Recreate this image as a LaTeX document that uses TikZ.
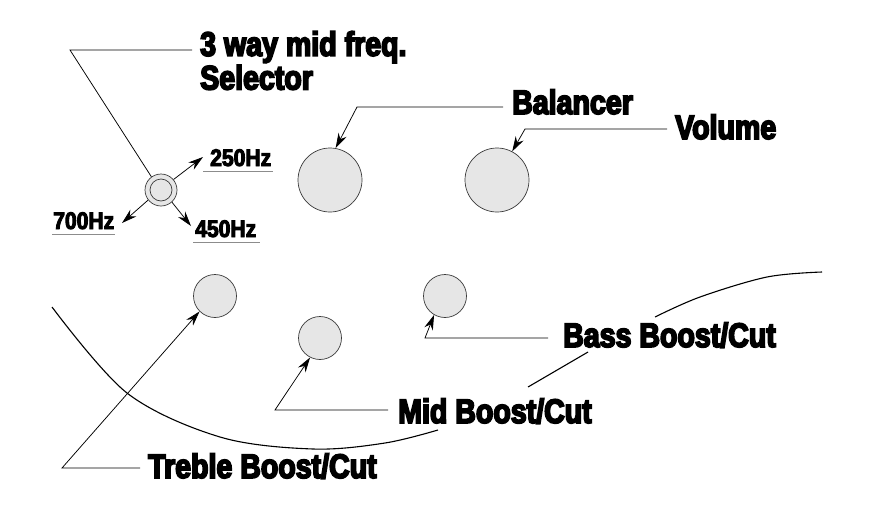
\documentclass[tikz,border=0pt]{standalone}
\usepackage{fontspec}
\newfontfamily\labfont[FakeStretch=0.84,FakeBold=5]{Liberation Sans Bold}
\newfontfamily\hzfont[FakeStretch=0.88,FakeBold=4]{Liberation Sans Bold}
\usetikzlibrary{arrows.meta}
\definecolor{knobfill}{HTML}{E6E6E6}
\definecolor{knobline}{HTML}{3A3A3A}
\tikzset{
  knob/.style={circle, draw=knobline, line width=0.7pt, fill=knobfill, inner sep=0pt, minimum size=#1},
  big/.style={font=\labfont\fontsize{34}{30}\selectfont, inner sep=0pt, anchor=base west},
  hz/.style={font=\hzfont\fontsize{24}{22}\selectfont, inner sep=0pt, anchor=base west},
  leader/.style={line width=0.75pt, black},
  arr/.style={leader, -{Stealth[length=15pt,width=9pt]}},
  uline/.style={line width=0.8pt, black!45},
  body/.style={line width=1.1pt, black}
}
\begin{document}
\begin{tikzpicture}[x=1pt,y=-1pt]
\useasboundingbox (0,0) rectangle (874,530);
% body outline (interrupted behind the labels)
\draw[body] plot[smooth, tension=0.55] coordinates {(52,307) (127,393) (220,437) (313,449) (385,443) (438,430)};
\draw[body] (528,387) -- (588,352);
\draw[body] plot[smooth, tension=0.55] coordinates {(655,317) (700,297) (767,277) (822,272)};
% knobs
\node[knob=64pt] (bal) at (330,180) {};
\node[knob=64pt] (vol) at (497,180) {};
\node[knob=43pt] (tre) at (215,296) {};
\node[knob=43pt] (mid) at (320,338) {};
\node[knob=43pt] (bas) at (445,296) {};
\node[knob=32pt] (selo) at (161,190) {};
\node[knob=22pt] (seli) at (161,190) {};
% labels
\node[big, align=left, anchor=north west] (seltxt) at (200,31) {3 way mid freq.\\[1pt]Selector};
\node[big] (baltxt) at (512,114) {Balancer};
\node[big] (voltxt) at (675,139) {Volume};
\node[big] (tretxt) at (148,478) {Treble Boost/Cut};
\node[big] (midtxt) at (398,423) {Mid Boost/Cut};
\node[big] (bastxt) at (563,347) {Bass Boost/Cut};
\node[hz] (hz250) at (210,166) {250Hz};
\node[hz] (hz700) at (53,229) {700Hz};
\node[hz] (hz450) at (195,237) {450Hz};
% underlines
\draw[uline] (hz250.base west) ++(-7,5) -- ++(70,0);
\draw[uline] (hz700.base west) ++(-1,5) -- ++(63,0);
\draw[uline] (hz450.base west) ++(-2,5) -- ++(67,0);
% leader corners
\coordinate (selc) at (70,50);
\coordinate (sele) at (192,50);
\coordinate (balc) at (357,107);
\coordinate (bale) at (503,107);
\coordinate (volc) at (525,129);
\coordinate (vole) at (667,129);
\coordinate (trec) at (62,468);
\coordinate (tree) at (140,468);
\coordinate (midc) at (275,410);
\coordinate (mide) at (388,410);
\coordinate (basc) at (425,338);
\coordinate (base) at (548,338);
\coordinate (a250) at (203,157);
\coordinate (a700) at (122,223);
\coordinate (a450) at (191,226);
% connectors
\draw[leader] (selo.126) -- (selc) -- (sele);
\draw[arr] (selo.40) -- (a250);
\draw[arr] (selo.218) -- (a700);
\draw[arr] (selo.312) -- (a450);
\draw[arr] (bale) -- (balc) -- (bal.80);
\draw[arr] (vole) -- (volc) -- (vol.62);
\draw[arr] (tree) -- (trec) -- (tre.225);
\draw[arr] (mide) -- (midc) -- (mid.243);
\draw[arr] (base) -- (basc) -- (bas.240);
\end{tikzpicture}
\end{document}
